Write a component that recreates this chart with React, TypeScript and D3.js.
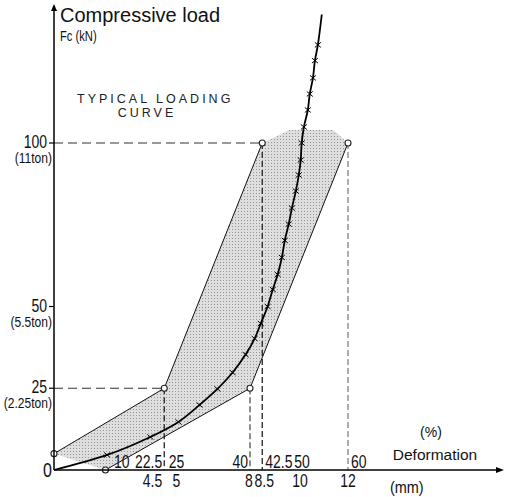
import React from 'react'
import * as d3 from 'd3'

// load range band (mm, kN)
const upperBound: [number, number][] = [[0, 5], [4.5, 25], [8.5, 100]]
const lowerBound: [number, number][] = [[2.1, 0], [8, 25], [12, 100]]
// fuzzy top of the shaded band
const bandTop: [number, number][] = [[9.6, 104], [11.4, 104]]

// typical loading curve (mm, kN)
const typicalCurve: [number, number][] = [
  [0, 0], [2.17, 4.6], [3.93, 10.1], [5.08, 14.7], [5.94, 19.9], [6.67, 24.8],
  [7.29, 29.8], [7.82, 35.3], [8.19, 40.2], [8.44, 44.8], [8.72, 50], [8.93, 55.2],
  [9.13, 59.8], [9.3, 65], [9.42, 70.2], [9.58, 75.2], [9.71, 80.1], [9.87, 85.3],
  [9.99, 90.2], [10.07, 94.8], [10.11, 100], [10.2, 104.9], [10.36, 110.1],
  [10.44, 115], [10.57, 119.9], [10.65, 125.2], [10.77, 130], [10.93, 139.3],
]

const loadTicks = [100, 50, 25]
const tonLabels = ['(11ton)', '(5.5ton)', '(2.25ton)']
const mmTicks = [4.5, 5, 8, 8.5, 10, 12]
const pctTicks = [10, 22.5, 25, 40, 42.5, 50, 60]

const SANS = "'Liberation Sans', Arial, sans-serif"

// condensed text: Liberation Sans squeezed horizontally
const NText = ({x, y, size, anchor = 'start', sx = 0.8, children}: any) => (
  <text transform={`translate(${x},${y}) scale(${sx},1)`} textAnchor={anchor}
    fontFamily={SANS} fontSize={size} fill="#111">{children}</text>
)

export default function App() {
  const x = d3.scaleLinear().domain([0, 12]).range([54, 348])
  const y = d3.scaleLinear().domain([0, 100]).range([470, 143])

  const line = d3.line<[number, number]>().x(d => x(d[0])).y(d => y(d[1]))
  const smooth = d3.line<[number, number]>().x(d => x(d[0])).y(d => y(d[1])).curve(d3.curveCatmullRom)
  const closed = d3.line<[number, number]>().x(d => x(d[0])).y(d => y(d[1])).curve(d3.curveLinearClosed)

  const band = [...upperBound, ...bandTop, ...lowerBound.slice().reverse()]

  // label tweaks so the text clears the dashed guides
  const pctAnchor: Record<string, [string, number]> = {
    '10': ['start', 11], '22.5': ['end', -2], '25': ['middle', 0], '40': ['end', -2],
    '42.5': ['start', 3], '50': ['middle', 3], '60': ['start', 3],
  }
  const mmAnchor: Record<string, [string, number]> = {
    '4.5': ['end', -2], '5': ['middle', 0], '8': ['middle', -1], '8.5': ['middle', 2],
    '10': ['middle', 1], '12': ['middle', 0],
  }

  const corners = [...upperBound, ...lowerBound]
  const x0 = x(0), yb = y(0)

  return (
    <svg width={505} height={497} style={{position: 'absolute', left: 0, top: 0, background: '#fff'}}>
      <defs>
        <pattern id="dots" width={3} height={3} patternUnits="userSpaceOnUse">
          <rect width={3} height={3} fill="#dedede" />
          <rect x={1} y={1} width={1} height={1} fill="#959595" />
        </pattern>
      </defs>

      <path d={closed(band) || ''} fill="url(#dots)" stroke="none" />

      {/* guide lines */}
      <line x1={x0} x2={x(8.5)} y1={y(100)} y2={y(100)} stroke="#333" strokeDasharray="9,5" strokeWidth={1.2} />
      <line x1={x0} x2={x(4.5)} y1={y(25)} y2={y(25)} stroke="#333" strokeDasharray="9,5" strokeWidth={1.2} />
      <line x1={x(4.5)} x2={x(4.5)} y1={y(25)} y2={yb} stroke="#222" strokeDasharray="6,3" strokeWidth={1.3} />
      <line x1={x(8)} x2={x(8)} y1={y(25)} y2={yb} stroke="#444" strokeDasharray="6,3" strokeWidth={1.2} />
      <line x1={x(8.5)} x2={x(8.5)} y1={y(100)} y2={yb} stroke="#222" strokeDasharray="6,3" strokeWidth={1.3} />
      <line x1={x(12)} x2={x(12)} y1={y(100)} y2={yb} stroke="#777" strokeDasharray="6,3" strokeWidth={1.2} />

      {/* band edges */}
      <path d={line(upperBound) || ''} fill="none" stroke="#111" strokeWidth={1} />
      <path d={line(lowerBound) || ''} fill="none" stroke="#111" strokeWidth={1} />

      {/* typical curve */}
      <path d={smooth(typicalCurve) || ''} fill="none" stroke="#000" strokeWidth={1.8} />
      {typicalCurve.slice(1, -1).map((d, i) => (
        <path key={i} d={`M${x(d[0]) - 3},${y(d[1]) - 2.5}L${x(d[0]) + 3},${y(d[1]) + 2.5}M${x(d[0]) - 3},${y(d[1]) + 2.5}L${x(d[0]) + 3},${y(d[1]) - 2.5}`}
          stroke="#000" strokeWidth={1} />
      ))}

      {corners.map((d, i) => (
        <circle key={i} cx={x(d[0])} cy={y(d[1])} r={3} fill="#fff" stroke="#222" strokeWidth={1.1} />
      ))}

      {/* axes */}
      <line x1={x0} x2={x0} y1={yb} y2={8} stroke="#000" strokeWidth={1.5} />
      <path d={`M${x0},4L${x0 - 3},11L${x0 + 3},11Z`} fill="#000" />
      <line x1={x0} x2={498} y1={yb} y2={yb} stroke="#000" strokeWidth={1.3} />
      <path d={`M504,${yb}L496,${yb - 3}L496,${yb + 3}Z`} fill="#000" />

      {loadTicks.map((v, i) => (
        <g key={v}>
          <line x1={x0 - 5} x2={x0} y1={y(v)} y2={y(v)} stroke="#000" strokeWidth={1.2} />
          <NText x={47} y={y(v) + 5} size={17.5} anchor="end">{v}</NText>
          <NText x={52} y={y(v) + 20} size={14} sx={0.86} anchor="end">{tonLabels[i]}</NText>
        </g>
      ))}
      <NText x={52} y={yb + 7} size={20} anchor="end">0</NText>

      {pctTicks.map(p => {
        const [anchor, dx] = pctAnchor[String(p)]
        return <NText key={p} x={x(p / 5) + dx} y={yb - 2} size={17.5} anchor={anchor}>{p}</NText>
      })}
      {mmTicks.map(m => {
        const [anchor, dx] = mmAnchor[String(m)]
        return <NText key={m} x={x(m) + dx} y={yb + 17} size={17.5} anchor={anchor}>{m}</NText>
      })}

      <text x={60} y={22} fontFamily={SANS} fontSize={20} fill="#111">Compressive load</text>
      <NText x={60} y={41} size={14}>Fc (kN)</NText>
      <text x={77} y={103} fontFamily={SANS} fontSize={12.5} letterSpacing={3} fill="#222">TYPICAL  LOADING</text>
      <text x={147} y={117} textAnchor="middle" fontFamily={SANS} fontSize={12.5} letterSpacing={3} fill="#222">CURVE</text>

      <text x={431} y={437} textAnchor="middle" fontFamily={SANS} fontSize={14} fill="#111">(%)</text>
      <text x={435} y={460} textAnchor="middle" fontFamily={SANS} fontSize={15.5} fill="#111">Deformation</text>
      <NText x={390} y={493} size={17} sx={0.85}>(mm)</NText>
    </svg>
  )
}
